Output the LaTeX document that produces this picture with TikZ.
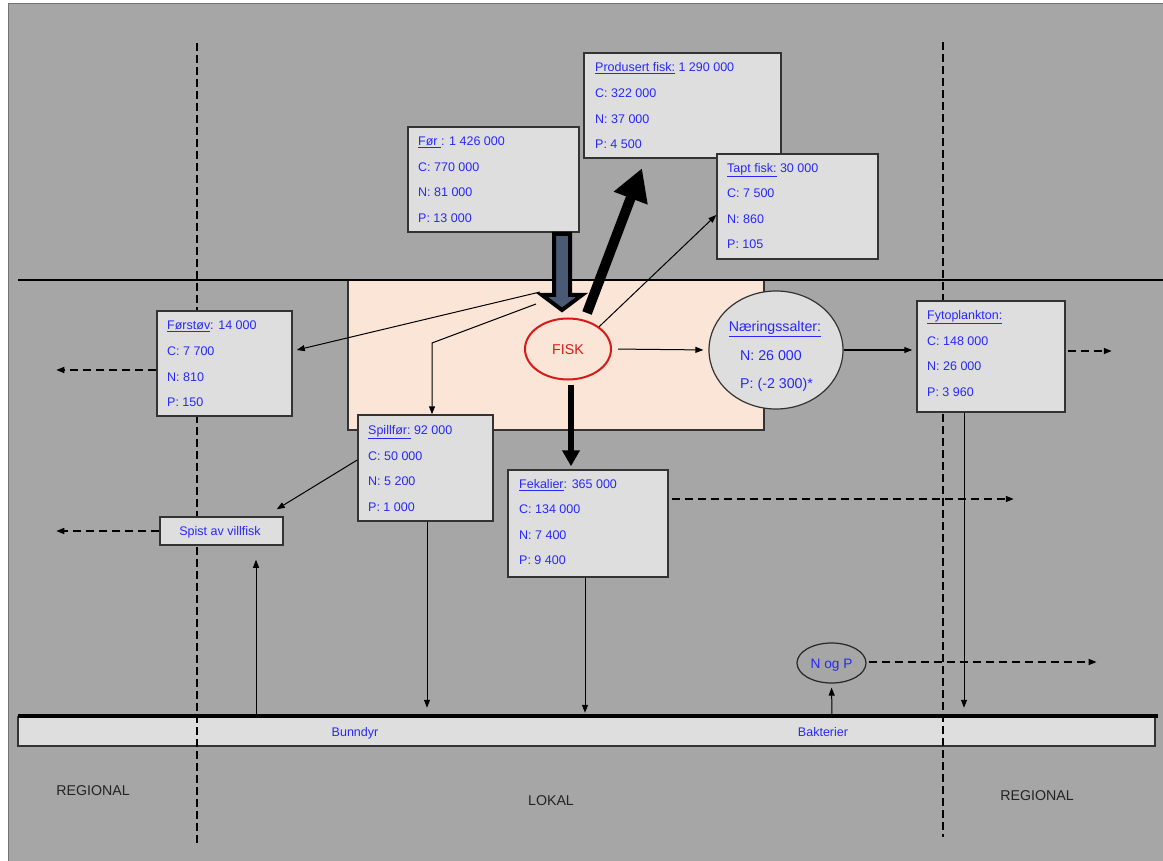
\documentclass[tikz,border=0pt]{standalone}
\usepackage{fontspec}
\setmainfont{Liberation Sans}
\usetikzlibrary{arrows.meta,shapes.geometric}
\definecolor{bgc}{RGB}{166,166,166}
\definecolor{boxc}{RGB}{222,222,222}
\definecolor{peach}{RGB}{251,229,214}
\definecolor{txtb}{RGB}{40,40,250}
\definecolor{fiskred}{RGB}{215,25,25}
\definecolor{slate}{RGB}{74,90,116}
\definecolor{lbl}{RGB}{35,35,35}
\begin{document}
\begin{tikzpicture}[x=1pt,y=-1pt,
  box/.style={draw=black!80,line width=1.5pt,fill=boxc,inner sep=0pt},
  tx/.style={anchor=base west,inner sep=0pt,text=txtb,font=\fontsize{12.5}{15}\selectfont},
  ar/.style={line width=1pt,-{Triangle[length=8pt,width=6pt]}},
  dar/.style={line width=1.5pt,dash pattern=on 8pt off 5pt,-{Triangle[length=8pt,width=6pt]}},
  vdash/.style={line width=2.5pt,dash pattern=on 8pt off 4pt},
  big/.style={font=\fontsize{14.2}{17}\selectfont,inner sep=0pt,anchor=base}
]
\useasboundingbox (0,0) rectangle (1163,861);
\fill[white] (0,0) rectangle (1163,861);
\fill[bgc] (8,3) rectangle (1163,861);
\draw[black!55,line width=1pt] (8.5,861) -- (8.5,3.5) -- (1163,3.5);

% bottom bar
\node[draw=black!80,line width=1.5pt,fill=boxc,minimum width=1137pt,minimum height=29pt,inner sep=0pt] (bar) at (586.5,731.5) {};
% pond
\node[draw=black!80,line width=1.2pt,fill=peach,minimum width=416pt,minimum height=150pt,inner sep=0pt] (pond) at (556,355) {};
\draw[line width=2pt] (18,280) -- (1163,280);
\draw[line width=4pt] (18,716) -- (1158,716);

% regional borders
\draw[vdash] (197,43) -- (197,844);
\draw[vdash] (943,42) -- (943,837);

% boxes
\node[box,minimum width=171pt,minimum height=105pt] (for) at (493.5,179.5) {};
\node[box,minimum width=197pt,minimum height=105pt] (prod) at (682.5,105.5) {};
\node[box,minimum width=161pt,minimum height=105pt] (tapt) at (797.5,206.5) {};
\node[box,minimum width=135pt,minimum height=105pt] (forstov) at (224.5,363.5) {};
\node[box,minimum width=135pt,minimum height=106pt] (spill) at (425.5,468) {};
\node[box,minimum width=160pt,minimum height=107pt] (fek) at (588,523.5) {};
\node[box,minimum width=148pt,minimum height=111pt] (fyto) at (991,356.5) {};
\node[box,minimum width=123pt,minimum height=28pt] (spist) at (221.5,531) {};
\node[ellipse,draw=black!80,line width=1.2pt,fill=boxc,minimum width=134pt,minimum height=118pt,inner sep=0pt] (naer) at (776,350) {};
\node[ellipse,draw=fiskred,line width=2pt,fill=peach,minimum width=86pt,minimum height=61pt,inner sep=0pt] (fisk) at (568,349) {};
\node[ellipse,draw=black!85,line width=1.2pt,minimum width=69pt,minimum height=40pt,inner sep=0pt] (nogp) at (831.5,663) {};

% texts
\node[tx] (for1) at (418,145.5) {\underline{Før }: 1 426 000};
\node[tx] (for2) at (418,171.5) {C: 770 000};
\node[tx] (for3) at (418,196.5) {N: 81 000};
\node[tx] (for4) at (418,222.5) {P: 13 000};

\node[tx] (prod1) at (595,72) {\underline{Produsert fisk:} 1 290 000};
\node[tx] (prod2) at (595,97.5) {C: 322 000};
\node[tx] (prod3) at (595,123.5) {N: 37 000};
\node[tx] (prod4) at (595,148.5) {P: 4 500};

\node[tx] (tapt1) at (727,172.5) {\underline{Tapt fisk:} 30 000};
\node[tx] (tapt2) at (727,197.5) {C: 7 500};
\node[tx] (tapt3) at (727,223.5) {N: 860};
\node[tx] (tapt4) at (727,248.5) {P: 105};

\node[tx] (fs1) at (167,329.5) {\underline{Førstøv}: 14 000};
\node[tx] (fs2) at (167,355.5) {C: 7 700};
\node[tx] (fs3) at (167,381.5) {N: 810};
\node[tx] (fs4) at (167,406.5) {P: 150};

\node[tx] (sp1) at (368,434.5) {\underline{Spillfør:} 92 000};
\node[tx] (sp2) at (368,460.5) {C: 50 000};
\node[tx] (sp3) at (368,485.5) {N: 5 200};
\node[tx] (sp4) at (368,511.5) {P: 1 000};

\node[tx] (fk1) at (519,488.5) {\underline{Fekalier}: 365 000};
\node[tx] (fk2) at (519,513.5) {C: 134 000};
\node[tx] (fk3) at (519,539.5) {N: 7 400};
\node[tx] (fk4) at (519,564.5) {P: 9 400};

\node[tx] (fy1) at (927,319.5) {\underline{Fytoplankton:}};
\node[tx] (fy2) at (927,345.5) {C: 148 000};
\node[tx] (fy3) at (927,370.5) {N: 26 000};
\node[tx] (fy4) at (927,396.5) {P: 3 960};

\node[tx,anchor=base] (spt) at (220,535.5) {Spist av villfisk};

\node[big,text=txtb] (nr1) at (775,332) {\underline{Næringssalter:}};
\node[big,text=txtb,anchor=base west] (nr2) at (740,360) {N: 26 000};
\node[big,text=txtb,anchor=base west] (nr3) at (740,388.5) {P: (-2 300)*};

\node[big,text=fiskred] (fisktxt) at (568,354) {FISK};
\node[big,text=txtb,font=\fontsize{13.7}{16}\selectfont] (nogptxt) at (831.5,668) {N og P};

\node[tx,anchor=base] (bunn) at (355,736.5) {Bunndyr};
\node[tx,anchor=base] (bakt) at (823,736.5) {Bakterier};

\node[big,text=lbl] (reg1) at (93,795) {REGIONAL};
\node[big,text=lbl] (lok) at (551,805) {LOKAL};
\node[big,text=lbl] (reg2) at (1037,800) {REGIONAL};

% coordinates
\coordinate (c1) at (540,292);
\coordinate (c2) at (536,304);
\coordinate (c3) at (432,343);
\coordinate (c5) at (587,313);
\coordinate (bl1) at (256,715);
\coordinate (bl2) at (832,715);

% feed block arrow
\filldraw[fill=slate,draw=black,line width=4pt,line join=miter]
  (554,234) -- (554,295) -- (542,295) -- (562,310) -- (582,295) -- (570,295) -- (570,234) -- cycle;

% thick arrows
\draw[line width=10pt,-{Triangle[length=32pt,width=34pt]}] (c5) -- ([xshift=-40.5pt,yshift=-9.5pt]prod.south);
\draw[line width=5.5pt,-{Triangle[length=16pt,width=17pt]}] ([xshift=3pt,yshift=-4pt]fisk.south) -- ([xshift=-17pt,yshift=3pt]fek.north);

% thin arrows
\draw[ar] (c1) -- ([xshift=4pt,yshift=13.5pt]forstov.east);
\draw[ar] (c2) -- (c3) -- (c3 |- spill.north);
\draw[ar] (fisk.north east) -- ([yshift=-8.5pt]tapt.west);
\draw[ar,shorten <=6pt,shorten >=5pt] (fisk.east) -- (naer.west);
\draw[ar,shorten >=4pt] (naer.east) -- ([yshift=6.5pt]fyto.west);
\draw[ar] ([yshift=8pt]spill.west) -- ([xshift=-7pt,yshift=7pt]spist.north east);
\draw[ar] ([xshift=1.5pt]spill.south) -- +(0,186);
\draw[ar] ([xshift=-3pt]fek.south) -- +(0,135);
\draw[ar] ([xshift=-27pt]fyto.south) -- +(0,295);
\draw[ar] (bl1) -- ([xshift=34.5pt,yshift=-14pt]spist.south);
\draw[ar,shorten >=4pt] (bl2) -- (nogp.south);

% dashed arrows
\draw[dar] ([xshift=2pt,yshift=5.5pt]fyto.east) -- +(44,0);
\draw[dar] ([xshift=3pt,yshift=24.5pt]fek.east) -- +(342,0);
\draw[dar] ([yshift=-6.5pt]forstov.west) -- +(-100,0);
\draw[dar] (spist.west) -- +(-103,0);
\draw[dar] ([xshift=2pt,yshift=1pt]nogp.east) -- +(228,0);
\end{tikzpicture}
\end{document}
